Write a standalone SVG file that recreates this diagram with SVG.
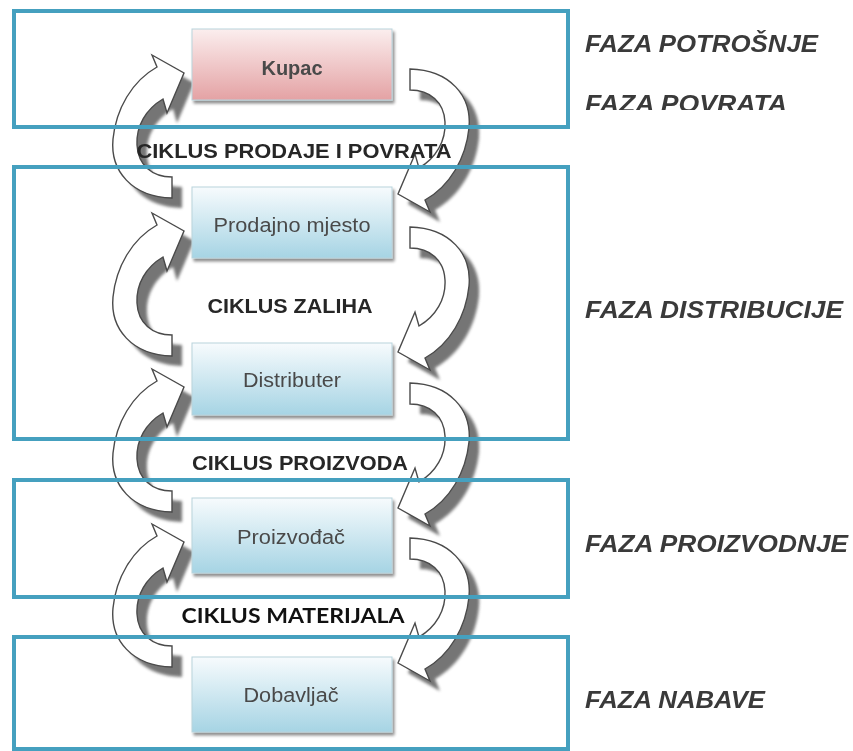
<svg xmlns="http://www.w3.org/2000/svg" xmlns:xlink="http://www.w3.org/1999/xlink" width="853" height="751" viewBox="0 0 853 751">
<style>
.phase{fill:none;stroke:#45a0bf;stroke-width:4;}
.arrow{fill:#ffffff;stroke:#4a4a4a;stroke-width:1.4;stroke-linejoin:miter;}
.shadow{fill:#666666;opacity:0.9;}
.box{stroke:#b9d3dc;stroke-width:1;}
.boxtxt{font-family:"Liberation Sans",Arial,sans-serif;font-size:20px;fill:#4a4a4a;text-anchor:middle;}
.cyc{font-family:"Liberation Sans",Arial,sans-serif;font-size:21px;font-weight:bold;fill:#262626;text-anchor:middle;}
.faza{font-family:"Liberation Sans",Arial,sans-serif;font-size:24px;font-weight:bold;font-style:italic;fill:#3a3a3a;}
</style>
<defs>
<linearGradient id="gBlue" x1="0" y1="0" x2="0" y2="1">
<stop offset="0" stop-color="#f7fbfd"/>
<stop offset="1" stop-color="#a6d4e4"/>
</linearGradient>
<linearGradient id="gPink" x1="0" y1="0" x2="0" y2="1">
<stop offset="0" stop-color="#fbeeee"/>
<stop offset="1" stop-color="#e4a2a4"/>
</linearGradient>
<filter id="blur" x="-20%" y="-20%" width="140%" height="140%">
<feGaussianBlur stdDeviation="1.5"/>
</filter>
<filter id="boxsh" x="-10%" y="-10%" width="125%" height="130%">
<feGaussianBlur in="SourceAlpha" stdDeviation="1.5"/>
<feOffset dx="2" dy="3" result="o"/>
<feComponentTransfer><feFuncA type="linear" slope="0.45"/></feComponentTransfer>
<feMerge><feMergeNode/><feMergeNode in="SourceGraphic"/></feMerge>
</filter>
<path id="arrL" d="M172,169 C132,168 110,142 113,110 C116,80 132,52 157,38 L152,26 L184,44 L167,84 L163,70 C146,80 136,97 137,116 C138,136 152,148 172,148 Z"/>
<clipPath id="clipPov"><rect x="560" y="80" width="293" height="30"/></clipPath>
</defs>
<rect x="0" y="0" width="853" height="751" fill="#ffffff"/>

<g id="connectors">
<g class="shadow" filter="url(#blur)">
<use xlink:href="#arrL" transform="translate(10,39)"/>
<use xlink:href="#arrL" transform="translate(592,248) scale(-1,-1)"/>
<use xlink:href="#arrL" transform="translate(10,197)"/>
<use xlink:href="#arrL" transform="translate(592,406) scale(-1,-1)"/>
<use xlink:href="#arrL" transform="translate(10,353)"/>
<use xlink:href="#arrL" transform="translate(592,562) scale(-1,-1)"/>
<use xlink:href="#arrL" transform="translate(10,508)"/>
<use xlink:href="#arrL" transform="translate(592,717) scale(-1,-1)"/>
</g>
<g class="arrow">
<use xlink:href="#arrL" transform="translate(0,29)"/>
<use xlink:href="#arrL" transform="translate(582,238) scale(-1,-1)"/>
<use xlink:href="#arrL" transform="translate(0,187)"/>
<use xlink:href="#arrL" transform="translate(582,396) scale(-1,-1)"/>
<use xlink:href="#arrL" transform="translate(0,343)"/>
<use xlink:href="#arrL" transform="translate(582,552) scale(-1,-1)"/>
<use xlink:href="#arrL" transform="translate(0,498)"/>
<use xlink:href="#arrL" transform="translate(582,707) scale(-1,-1)"/>
</g>
</g>

<g id="phases">
<rect class="phase" x="14" y="11" width="554" height="116"/>
<rect class="phase" x="14" y="167" width="554" height="272"/>
<rect class="phase" x="14" y="480" width="554" height="117"/>
<rect class="phase" x="14" y="637" width="554" height="112"/>
</g>

<g id="node-kupac" filter="url(#boxsh)">
<rect class="box" x="192" y="29" width="200" height="71" fill="url(#gPink)" stroke="#e0b8b8"/>
<text class="boxtxt" x="292" y="75" font-weight="bold" fill="#333">Kupac</text>
</g>
<g id="node-prodajno" filter="url(#boxsh)">
<rect class="box" x="192" y="187" width="200" height="71" fill="url(#gBlue)"/>
<text class="boxtxt" x="292" y="232" textLength="157" lengthAdjust="spacingAndGlyphs">Prodajno mjesto</text>
</g>
<g id="node-distributer" filter="url(#boxsh)">
<rect class="box" x="192" y="343" width="200" height="72" fill="url(#gBlue)"/>
<text class="boxtxt" x="292" y="387" textLength="98" lengthAdjust="spacingAndGlyphs">Distributer</text>
</g>
<g id="node-proizvodac" filter="url(#boxsh)">
<rect class="box" x="192" y="498" width="200" height="75" fill="url(#gBlue)"/>
<text class="boxtxt" x="291" y="544" textLength="108" lengthAdjust="spacingAndGlyphs">Proizvođač</text>
</g>
<g id="node-dobavljac" filter="url(#boxsh)">
<rect class="box" x="192" y="657" width="200" height="75" fill="url(#gBlue)"/>
<text class="boxtxt" x="291" y="702" textLength="95" lengthAdjust="spacingAndGlyphs">Dobavljač</text>
</g>

<g id="cycle-labels">
<text class="cyc" x="294" y="158" textLength="315" lengthAdjust="spacingAndGlyphs">CIKLUS PRODAJE I POVRATA</text>
<text class="cyc" x="290" y="313" textLength="165" lengthAdjust="spacingAndGlyphs">CIKLUS ZALIHA</text>
<text class="cyc" x="300" y="470" textLength="216" lengthAdjust="spacingAndGlyphs">CIKLUS PROIZVODA</text>
<text x="293" y="623" font-family="Lato,'Open Sans',sans-serif" font-size="20" font-weight="bold" fill="#111" text-anchor="middle" textLength="223" lengthAdjust="spacingAndGlyphs">CIKLUS MATERIJALA</text>
</g>

<g id="phase-labels">
<text class="faza" x="585" y="52" textLength="233" lengthAdjust="spacingAndGlyphs">FAZA POTROŠNJE</text>
<text class="faza" x="585" y="112" textLength="202" lengthAdjust="spacingAndGlyphs" clip-path="url(#clipPov)">FAZA POVRATA</text>
<text class="faza" x="585" y="318" textLength="258" lengthAdjust="spacingAndGlyphs">FAZA DISTRIBUCIJE</text>
<text class="faza" x="585" y="552" textLength="263" lengthAdjust="spacingAndGlyphs">FAZA PROIZVODNJE</text>
<text class="faza" x="585" y="708" textLength="180" lengthAdjust="spacingAndGlyphs">FAZA NABAVE</text>
</g>
</svg>
